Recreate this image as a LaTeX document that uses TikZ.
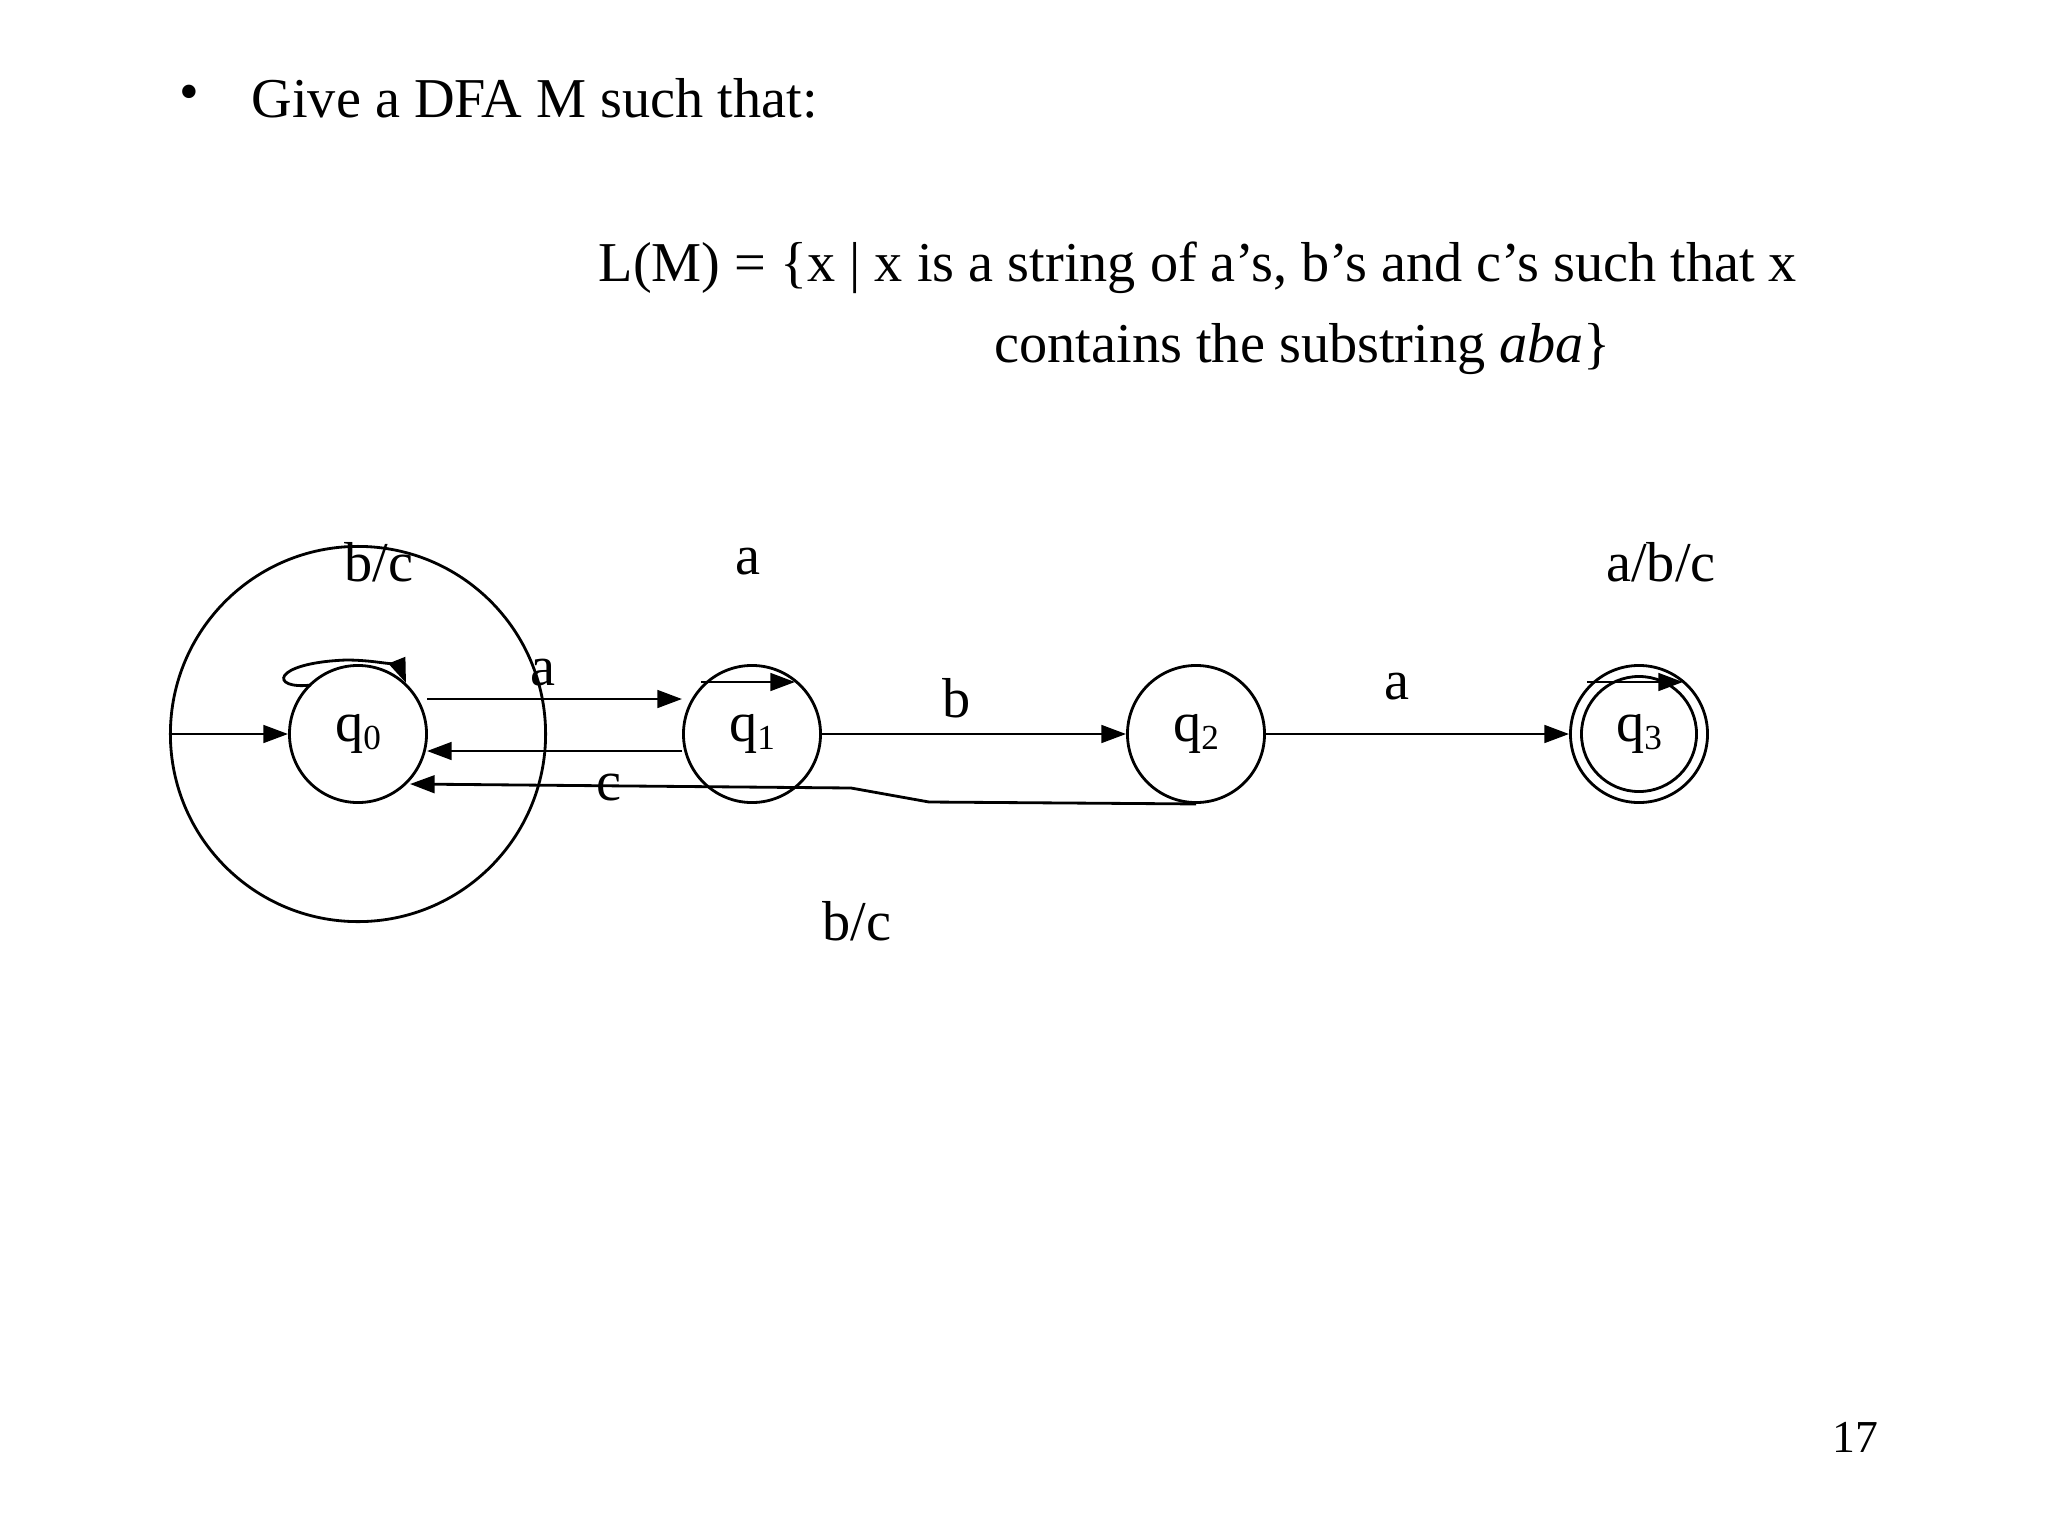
\documentclass[tikz,border=0pt]{standalone}
\usepackage{fontspec}
\setmainfont{Liberation Serif}
\usetikzlibrary{arrows.meta}
\begin{document}
\begin{tikzpicture}[x=0.01cm,y=-0.01cm,
  txt/.style={font=\fontsize{16}{19}\selectfont,inner sep=0pt},
  st/.style={circle,draw,line width=0.8pt,minimum size=137\pgflinewidth,inner sep=0pt,font=\fontsize{16}{19}\selectfont},
  tr/.style={line width=0.8pt,-{Triangle[length=7pt,width=5pt]}}]
\useasboundingbox (0,0) rectangle (2048,1536);
\node[txt] (bul) at (189,98) {\textbullet};
\node[txt,anchor=west] (t1) at (251,98) {Give a DFA M such that:};
\node[txt,anchor=west] (t2) at (598,268) {L(M) = \{x | x is a string of a’s, b’s and c’s such that x};
\node[txt,anchor=west] (t3) at (994,349) {contains the substring \textit{aba}\}};
\node[txt] (l0) at (379,562) {b/c};
\node[txt] (l1) at (748,562) {a};
\node[txt] (l3) at (1661,562) {a/b/c};
\node[txt] (lb) at (857,921) {b/c};
\node[txt] (pg) at (1855,1437) {\fontsize{13}{15}\selectfont 17};
\node[st,minimum size=3.75cm] (q0) at (358,734) {};
\node[st,minimum size=1.37cm] (q0) at (358,734) {q\raisebox{-0.3ex}{\fontsize{10}{12}\selectfont 0}};
\node[st,minimum size=1.37cm] (q1) at (752,734) {q\raisebox{-0.3ex}{\fontsize{10}{12}\selectfont 1}};
\node[st,minimum size=1.37cm] (q2) at (1196,734) {q\raisebox{-0.3ex}{\fontsize{10}{12}\selectfont 2}};
\node[st,minimum size=1.37cm] (q3) at (1639,734) {q\raisebox{-0.3ex}{\fontsize{10}{12}\selectfont 3}};
\node[circle,draw,line width=0.8pt,minimum size=1.15cm,inner sep=0pt] (q3i) at (q3) {};
\coordinate (s) at (172,734);
\draw[tr] (s) -- (q0.west);
\draw[tr] (427,699) -- (682,699);
\draw[tr] (q1.west |- 0,751) -- (427,751);
\draw[tr] (q1) -- (q2);
\draw[tr] (q2) -- (q3);
\draw[tr] (q2.south) -- (929,802) -- (851,788) -- (410,784);
\draw[tr] (311,685) .. controls (270,690) and (270,663) .. (346,660) .. controls (380,660) and (400,668) .. (406,683);
\draw[tr] (701,682) -- (795,682);
\draw[tr] (1587,682) -- (1683,682);
\node[txt] (la) at (543,673) {a};
\node[txt] (lbb) at (957,698) {b};
\node[txt] (lc) at (609,788) {c};
\node[txt] (la2) at (1397,687) {a};
\end{tikzpicture}
\end{document}
